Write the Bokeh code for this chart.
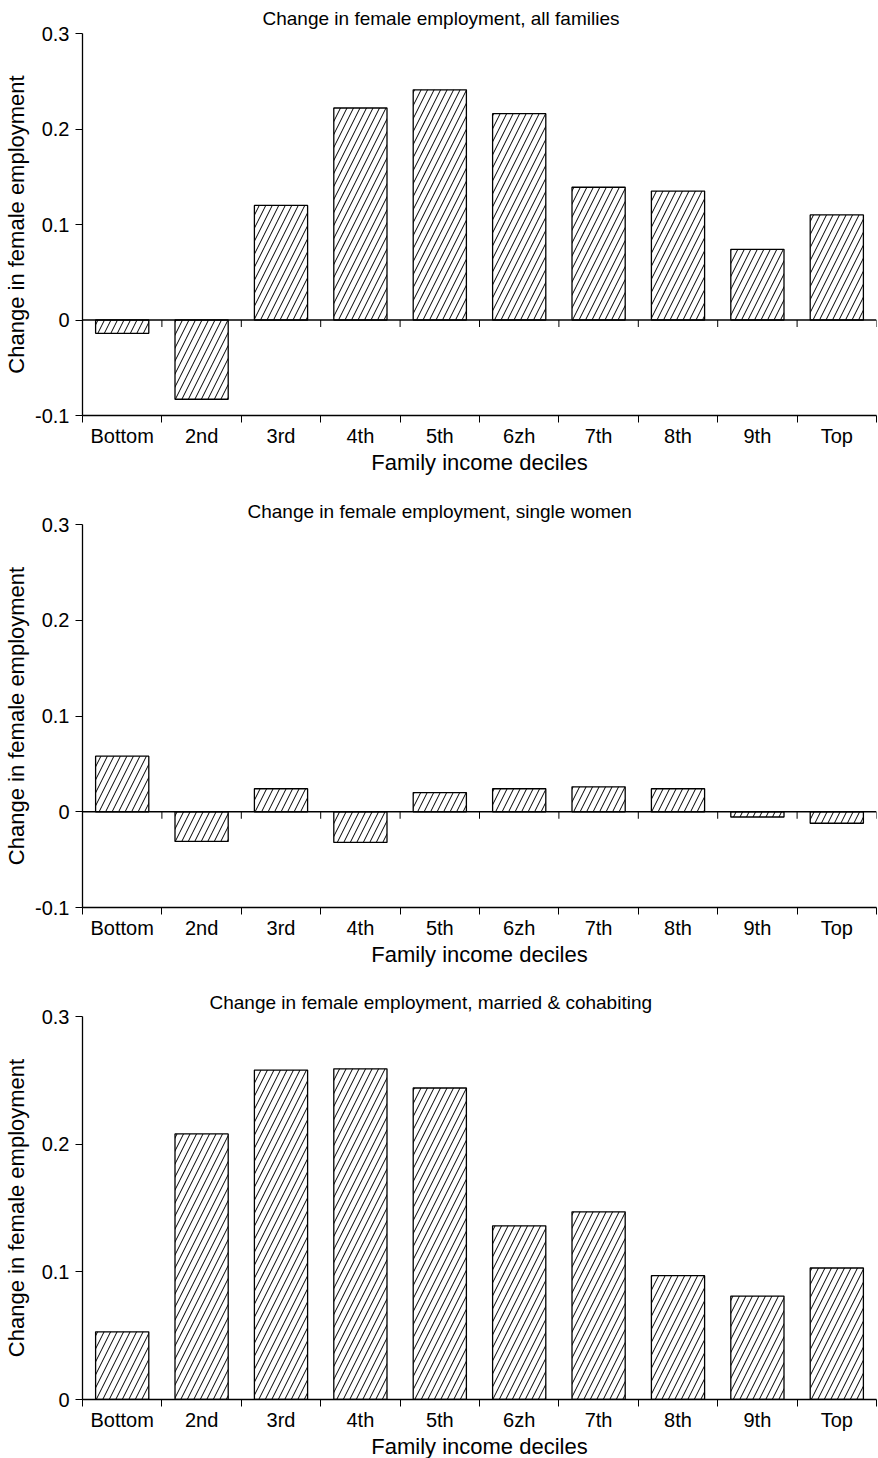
from bokeh.plotting import figure
from bokeh.layouts import column
from bokeh.models import FixedTicker, Range1d, ColumnDataSource, Span
from bokeh.embed import file_html
from bokeh.resources import INLINE

# ---- data ----
deciles = ["Bottom", "2nd", "3rd", "4th", "5th", "6zh", "7th", "8th", "9th", "Top"]
all_families = [-0.014, -0.083, 0.120, 0.222, 0.241, 0.216, 0.139, 0.135, 0.074, 0.110]
single_women = [0.058, -0.031, 0.024, -0.032, 0.020, 0.024, 0.026, 0.024, -0.0055, -0.012]
married_cohabiting = [0.053, 0.208, 0.258, 0.259, 0.244, 0.136, 0.147, 0.097, 0.081, 0.103]

titles = [
    "Change in female employment, all families",
    "Change in female employment, single women",
    "Change in female employment, married & cohabiting",
]
x_axis_title = "Family income deciles"
y_axis_title = "Change in female employment"

y_ticks_a = [-0.1, 0, 0.1, 0.2, 0.3]
y_labels_a = ["-0.1", "0", "0.1", "0.2", "0.3"]
y_ticks_b = [0, 0.1, 0.2, 0.3]
y_labels_b = ["0", "0.1", "0.2", "0.3"]

FONT = "Liberation Sans"


def make_panel(values, title, yticks, ylabels, top_border, frame_h, bottom_border,
               title_offset, title_standoff, zero_line, ylabel_standoff):
    n = len(values)
    centers = [i + 0.5 for i in range(n)]
    bounds = [float(i) for i in range(n + 1)]
    y0, y1 = yticks[0], yticks[-1]
    p = figure(x_range=Range1d(0, n), y_range=Range1d(y0, y1),
               frame_width=794, frame_height=frame_h,
               min_border_left=81, min_border_right=2,
               min_border_top=top_border, min_border_bottom=bottom_border,
               output_backend="svg", toolbar_location=None, tools="",
               title=title)
    p.outline_line_color = None
    p.background_fill_color = "white"
    p.border_fill_color = "white"
    p.xgrid.visible = False
    p.ygrid.visible = False

    p.title.align = "left"
    p.title.offset = title_offset
    p.title.text_font = FONT
    p.title.text_font_size = "19px"
    p.title.text_font_style = "normal"
    p.title.text_color = "black"
    p.title.standoff = title_standoff

    src = ColumnDataSource(dict(x=centers, top=values, label=deciles))
    p.vbar(x="x", top="top", bottom=0, width=0.67, source=src,
           fill_color="white", line_color="black", line_width=1.3,
           hatch_pattern="/", hatch_color="black", hatch_scale=13, hatch_weight=1)

    if zero_line:
        p.add_layout(Span(location=0, dimension="width", line_color="black", line_width=1.3))
        tick_len = 7 * (y1 - y0) / frame_h
        p.segment(x0=bounds, y0=[0] * len(bounds), x1=bounds, y1=[-tick_len] * len(bounds),
                  line_color="black", line_width=1)

    # y axis
    ya = p.yaxis[0]
    ya.ticker = FixedTicker(ticks=yticks)
    ya.major_label_overrides = {t: l for t, l in zip(yticks, ylabels)}
    ya.major_tick_out = 7
    ya.major_tick_in = 0
    ya.minor_tick_out = 0
    ya.minor_tick_in = 0
    ya.major_label_standoff = 6
    ya.major_label_text_font = FONT
    ya.major_label_text_font_size = "20px"
    ya.major_label_text_color = "black"
    ya.axis_label = y_axis_title
    ya.axis_label_text_font = FONT
    ya.axis_label_text_font_size = "22px"
    ya.axis_label_text_font_style = "normal"
    ya.axis_label_text_color = "black"
    ya.axis_label_standoff = ylabel_standoff
    ya.axis_line_width = 1.3
    ya.major_tick_line_width = 1

    # x axis
    xa = p.xaxis[0]
    xa.ticker = FixedTicker(ticks=centers, minor_ticks=bounds)
    xa.major_label_overrides = {c: l for c, l in zip(centers, deciles)}
    xa.major_tick_out = 0
    xa.major_tick_in = 0
    xa.minor_tick_out = 7
    xa.minor_tick_in = 0
    xa.major_label_standoff = 2
    xa.major_label_text_font = FONT
    xa.major_label_text_font_size = "20px"
    xa.major_label_text_color = "black"
    xa.axis_label = x_axis_title
    xa.axis_label_text_font = FONT
    xa.axis_label_text_font_size = "22px"
    xa.axis_label_text_font_style = "normal"
    xa.axis_label_text_color = "black"
    xa.axis_label_standoff = 0
    xa.axis_line_width = 1.3
    xa.minor_tick_line_width = 1
    return p


p1 = make_panel(all_families, titles[0], y_ticks_a, y_labels_a, 33, 382, 79, 180, 10, True, 3)
p2 = make_panel(single_women, titles[1], y_ticks_a, y_labels_a, 30, 383, 78, 165, 6, True, 3)
p3 = make_panel(married_cohabiting, titles[2], y_ticks_b, y_labels_b, 31, 383, 57, 127, 8, False, 10)

layout = column(p1, p2, p3, spacing=0)
open("out.html", "w").write(file_html(layout, INLINE))
